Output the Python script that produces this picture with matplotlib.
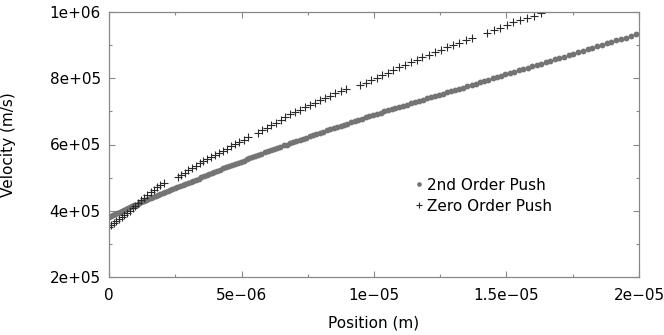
import matplotlib
matplotlib.use("Agg")
import matplotlib.pyplot as plt
from matplotlib.ticker import MultipleLocator

# 2nd order push (dots), position in um, velocity in 1e5 m/s
pos_2nd_um = [
    0.00, 0.08, 0.16, 0.24, 0.32, 0.40, 0.48, 0.56, 0.64, 0.72, 0.80, 0.88, 0.96, 1.04,
    1.13, 1.22, 1.31, 1.40, 1.49, 1.58, 1.67, 1.76, 1.85, 1.94, 2.03, 2.12, 2.21, 2.30,
    2.39, 2.48, 2.58, 2.68, 2.78, 2.88, 2.98, 3.08, 3.18, 3.28, 3.38, 3.48, 3.58, 3.68,
    3.78, 3.88, 3.98, 4.09, 4.20, 4.31, 4.42, 4.53, 4.64, 4.75, 4.86, 4.97, 5.08, 5.19,
    5.30, 5.41, 5.52, 5.63, 5.75, 5.87, 5.99, 6.11, 6.23, 6.35, 6.47, 6.59, 6.71, 6.83,
    6.95, 7.07, 7.19, 7.31, 7.44, 7.57, 7.70, 7.83, 7.96, 8.09, 8.22, 8.35, 8.48, 8.61,
    8.74, 8.87, 9.00, 9.13, 9.27, 9.41, 9.55, 9.69, 9.83, 9.97, 10.11, 10.25, 10.39,
    10.53, 10.67, 10.81, 10.95, 11.09, 11.24, 11.39, 11.54, 11.69, 11.84, 11.99, 12.14,
    12.29, 12.44, 12.59, 12.74, 12.89, 13.04, 13.20, 13.36, 13.52, 13.68, 13.84, 14.00,
    14.16, 14.32, 14.48, 14.64, 14.80, 14.96, 15.12, 15.29, 15.46, 15.63, 15.80, 15.97,
    16.14, 16.31, 16.48, 16.65, 16.82, 16.99, 17.16, 17.34, 17.52, 17.70, 17.88, 18.06,
    18.24, 18.42, 18.60, 18.78, 18.96, 19.14, 19.33, 19.52, 19.71, 19.90,
]
vel_2nd_e5 = [
    3.82, 3.85, 3.88, 3.90, 3.93, 3.96, 3.99, 4.02, 4.04, 4.07, 4.10, 4.13, 4.16, 4.18,
    4.22, 4.25, 4.28, 4.31, 4.34, 4.37, 4.40, 4.44, 4.47, 4.50, 4.53, 4.56, 4.59, 4.62,
    4.65, 4.68, 4.71, 4.74, 4.78, 4.81, 4.84, 4.87, 4.91, 4.94, 4.97, 5.01, 5.04, 5.07,
    5.11, 5.14, 5.17, 5.21, 5.24, 5.28, 5.31, 5.34, 5.38, 5.41, 5.45, 5.48, 5.51, 5.55,
    5.58, 5.62, 5.65, 5.69, 5.72, 5.76, 5.80, 5.83, 5.87, 5.90, 5.93, 5.97, 6.00, 6.04,
    6.07, 6.10, 6.14, 6.17, 6.21, 6.25, 6.29, 6.32, 6.36, 6.39, 6.43, 6.46, 6.50, 6.53,
    6.56, 6.60, 6.63, 6.67, 6.71, 6.74, 6.78, 6.82, 6.85, 6.89, 6.93, 6.96, 7.00,
    7.03, 7.06, 7.10, 7.13, 7.17, 7.20, 7.24, 7.28, 7.31, 7.35, 7.39, 7.42,
    7.46, 7.50, 7.53, 7.57, 7.61, 7.64, 7.68, 7.72, 7.76, 7.80, 7.84, 7.88,
    7.92, 7.96, 8.00, 8.04, 8.08, 8.12, 8.16, 8.20, 8.24, 8.28, 8.32, 8.36,
    8.40, 8.44, 8.49, 8.53, 8.57, 8.61, 8.65, 8.70, 8.74, 8.79, 8.83, 8.87,
    8.92, 8.96, 9.01, 9.05, 9.10, 9.14, 9.19, 9.23, 9.28, 9.33,
]

# zero order push (plus markers)
pos_zero_um = [
    0.00, 0.09, 0.19, 0.28, 0.38, 0.48, 0.58, 0.68, 0.78, 0.89, 1.00, 1.11, 1.22, 1.33,
    1.45, 1.57, 1.69, 1.81, 1.93, 2.06,
    2.60, 2.73, 2.86, 3.00, 3.14, 3.28, 3.42, 3.56, 3.70, 3.85, 4.00, 4.15, 4.30, 4.45,
    4.60, 4.76, 4.92, 5.08, 5.24,
    5.62, 5.79, 5.96, 6.13, 6.30, 6.48, 6.66, 6.84, 7.02, 7.20, 7.39, 7.58, 7.77, 7.96,
    8.15, 8.34, 8.54, 8.74, 8.94,
    9.47, 9.68, 9.89, 10.10, 10.31, 10.52, 10.73, 10.95, 11.17, 11.39, 11.61, 11.83,
    12.06, 12.29, 12.52, 12.75, 12.98, 13.22, 13.46, 13.70,
    14.26, 14.51, 14.76, 15.01, 15.26, 15.52, 15.78, 16.04, 16.30,
]
vel_zero_e5 = [
    3.50, 3.56, 3.62, 3.68, 3.74, 3.80, 3.86, 3.93, 3.99, 4.07, 4.15, 4.23, 4.31, 4.38,
    4.47, 4.56, 4.63, 4.71, 4.78, 4.84,
    5.02, 5.08, 5.15, 5.22, 5.29, 5.36, 5.43, 5.49, 5.55, 5.61, 5.68, 5.74, 5.80, 5.87,
    5.94, 6.01, 6.08, 6.15, 6.22,
    6.34, 6.43, 6.50, 6.58, 6.66, 6.74, 6.82, 6.91, 6.99, 7.05, 7.12, 7.19, 7.26, 7.33,
    7.40, 7.47, 7.55, 7.62, 7.67,
    7.79, 7.87, 7.94, 8.02, 8.10, 8.17, 8.25, 8.33, 8.41, 8.48, 8.55, 8.63,
    8.70, 8.78, 8.86, 8.93, 9.00, 9.07, 9.15, 9.22,
    9.38, 9.45, 9.53, 9.61, 9.69, 9.77, 9.83, 9.89, 9.96,
]

x_ticks = [0, 5e-6, 1e-5, 1.5e-5, 2e-5]
x_tick_labels = ["0", "5e\u221206", "1e\u221205", "1.5e\u221205", "2e\u221205"]
y_ticks = [2e5, 4e5, 6e5, 8e5, 1e6]
y_tick_labels = ["2e+05", "4e+05", "6e+05", "8e+05", "1e+06"]

plt.rcParams["font.family"] = ["DejaVu Sans"]
plt.rcParams["font.size"] = 11

fig = plt.figure(figsize=(6.64, 3.35), dpi=100)
ax = fig.add_axes([109 / 664, 1 - 277 / 335, 530 / 664, 265 / 335])

x2 = [p * 1e-6 for p in pos_2nd_um]
v2 = [v * 1e5 for v in vel_2nd_e5]
x0 = [p * 1e-6 for p in pos_zero_um]
v0 = [v * 1e5 for v in vel_zero_e5]

ax.plot(x2, v2, linestyle="none", marker="o", markersize=4.2, markeredgewidth=0,
        color="#747474", label="2nd Order Push")
ax.plot(x0, v0, linestyle="none", marker="+", markersize=5.8, markeredgewidth=0.8,
        color="#2a2a2a", label="Zero Order Push")

ax.set_xlim(0, 2e-5)
ax.set_ylim(2e5, 1e6)
ax.set_xticks(x_ticks)
ax.set_xticklabels(x_tick_labels)
ax.set_yticks(y_ticks)
ax.set_yticklabels(y_tick_labels)
ax.xaxis.set_minor_locator(MultipleLocator(2.5e-6))
ax.yaxis.set_minor_locator(MultipleLocator(1e5))
ax.tick_params(which="both", direction="in", top=True, right=True, color="#888888", width=0.8)
ax.tick_params(which="major", length=4)
ax.tick_params(axis="y", which="major", pad=6)
ax.tick_params(axis="x", which="major", pad=8)
ax.tick_params(which="minor", length=2.5)
for s in ax.spines.values():
    s.set_color("#888888")
    s.set_linewidth(0.9)

ax.set_xlabel("Position (m)")
ax.set_ylabel("Velocity (m/s)")
ax.xaxis.set_label_coords(0.5, -0.145)
ax.yaxis.set_label_coords(-0.176, 0.5)

leg = ax.legend(loc="center left", bbox_to_anchor=(0.562, 0.307), frameon=False,
                handlelength=0.6, handletextpad=0.2, labelspacing=0.4,
                borderpad=0, markerscale=0.8)

fig.savefig("out.png", dpi=100)
